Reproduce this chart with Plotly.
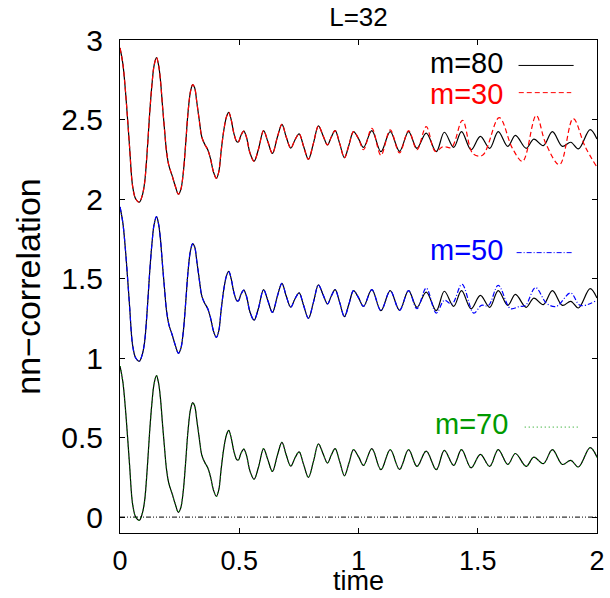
import plotly.graph_objects as go

# ---- data (m=80 base curve, no offset) ----
m80_t = [0.000, 0.012, 0.025, 0.040, 0.053, 0.066, 0.081, 0.093, 0.103, 0.114,
         0.124, 0.134, 0.143, 0.153, 0.162, 0.170, 0.178, 0.187, 0.195, 0.205,
         0.218, 0.232, 0.245, 0.255, 0.265, 0.275, 0.285, 0.296, 0.305, 0.313,
         0.322, 0.332, 0.343, 0.355, 0.368, 0.380, 0.392, 0.404, 0.414, 0.424,
         0.436, 0.447, 0.456, 0.466, 0.478, 0.490, 0.497, 0.507, 0.519, 0.530,
         0.545, 0.562, 0.580, 0.602, 0.620, 0.639, 0.660, 0.679, 0.697, 0.716,
         0.733, 0.751, 0.770, 0.790, 0.811, 0.832, 0.851, 0.870, 0.886, 0.902,
         0.921, 0.941, 0.960, 0.979, 1.000, 1.021, 1.056, 1.094, 1.133, 1.172,
         1.210, 1.245, 1.284, 1.326, 1.360, 1.399, 1.432, 1.472, 1.511, 1.550,
         1.586, 1.626, 1.658, 1.703, 1.735, 1.775, 1.813, 1.855, 1.890, 1.922,
         1.971, 2.000]
m80_v = [0.95, 0.85, 0.64, 0.33, 0.08, 0.00, -0.02, 0.02, 0.10, 0.30,
         0.53, 0.72, 0.84, 0.89, 0.84, 0.74, 0.59, 0.43, 0.30, 0.21,
         0.15, 0.08, 0.03, 0.06, 0.16, 0.34, 0.54, 0.68, 0.72, 0.70,
         0.61, 0.50, 0.39, 0.345, 0.31, 0.25, 0.17, 0.13, 0.17, 0.30,
         0.44, 0.52, 0.545, 0.50, 0.41, 0.36, 0.36, 0.40, 0.427, 0.39,
         0.29, 0.238, 0.31, 0.43, 0.36, 0.287, 0.39, 0.47, 0.39, 0.32,
         0.37, 0.41, 0.33, 0.25, 0.35, 0.46, 0.40, 0.34, 0.39, 0.43,
         0.35, 0.26, 0.34, 0.424, 0.38, 0.325, 0.43, 0.298, 0.424, 0.30,
         0.424, 0.319, 0.415, 0.298, 0.42, 0.325, 0.424, 0.31, 0.394, 0.319,
         0.424, 0.331, 0.40, 0.319, 0.377, 0.336, 0.424, 0.331, 0.357, 0.315,
         0.437, 0.377]

# m=30 follows m=80 up to t~0.98, then departs
m30_tail_t = [1.000, 1.021, 1.056, 1.094, 1.133, 1.172, 1.210, 1.245, 1.284, 1.322,
              1.355, 1.390, 1.436, 1.480, 1.520, 1.590, 1.645, 1.688, 1.745, 1.785,
              1.843, 1.900, 1.950, 2.000]
m30_tail_v = [0.38, 0.31, 0.445, 0.275, 0.435, 0.29, 0.43, 0.31, 0.455, 0.30,
              0.33, 0.325, 0.495, 0.285, 0.275, 0.512, 0.32, 0.237, 0.526, 0.35,
              0.216, 0.506, 0.33, 0.20]

# m=50 follows m=80 up to t~1.17, then departs
m50_tail_t = [1.210, 1.245, 1.284, 1.326, 1.360, 1.392, 1.434, 1.483, 1.515, 1.545,
              1.586, 1.637, 1.675, 1.700, 1.742, 1.790, 1.830, 1.889, 1.930, 2.000]
m50_tail_v = [0.424, 0.31, 0.44, 0.283, 0.363, 0.34, 0.464, 0.283, 0.331, 0.33,
              0.457, 0.311, 0.325, 0.33, 0.443, 0.342, 0.325, 0.409, 0.331, 0.363]

n30 = sum(1 for t in m80_t if t < 1.0)
m30_t = m80_t[:n30] + m30_tail_t
m30_v = m80_v[:n30] + m30_tail_v
n50 = sum(1 for t in m80_t if t < 1.2)
m50_t = m80_t[:n50] + m50_tail_t
m50_v = m80_v[:n50] + m50_tail_v
m70_t = list(m80_t)
m70_v = list(m80_v)

x_ticks = [0, 0.5, 1, 1.5, 2]
x_labels = ["0", "0.5", "1", "1.5", "2"]
y_ticks = [0, 0.5, 1, 1.5, 2, 2.5, 3]
y_labels = ["0", "0.5", "1", "1.5", "2", "2.5", "3"]

offsets = {"m=30": 2.0, "m=50": 1.0, "m=70": 0.0}
colors = {"m=80": "#000000", "m=30": "#ff0000", "m=50": "#0000ff", "m=70": "#009a00"}
dashes = {"m=80": "solid", "m=30": "5px,3px", "m=50": "5px,2px,1px,2px", "m=70": "1px,3px"}
series = {"m=30": (m30_t, m30_v), "m=50": (m50_t, m50_v), "m=70": (m70_t, m70_v)}

FONT = "Liberation Sans, Arial, Helvetica, sans-serif"

fig = go.Figure()

# zero reference line
fig.add_trace(go.Scatter(x=[0, 2], y=[0, 0], mode="lines",
                         line=dict(color="black", width=1, dash="5px,2px,1px,2px,1px,2px"),
                         showlegend=False, hoverinfo="skip"))

for name in ["m=30", "m=50", "m=70"]:
    off = offsets[name]
    fig.add_trace(go.Scatter(x=m80_t, y=[v + off for v in m80_v], mode="lines",
                             line=dict(color=colors["m=80"], width=1.2, shape="spline", smoothing=1.0),
                             name="m=80", showlegend=False))
    t, v = series[name]
    fig.add_trace(go.Scatter(x=t, y=[y + off for y in v], mode="lines",
                             line=dict(color=colors[name], width=1.2, dash=dashes[name],
                                       shape="spline", smoothing=1.0),
                             name=name, showlegend=False))

# gnuplot-style key entries (text then line sample)
legend_items = [("m=80", 2.855, 1.613, 1.671, 1.902, 2.840),
                ("m=30", 2.663, 1.613, 1.672, 1.892, 2.669),
                ("m=50", 1.682, 1.613, 1.663, 1.894, 1.663),
                ("m=70", 0.587, 1.634, 1.697, 1.919, 0.566)]
for name, ty, tx, x0, x1, ly in legend_items:
    fig.add_annotation(x=tx, y=ty, xref="x", yref="y", text=name, showarrow=False,
                       xanchor="right", yanchor="middle",
                       font=dict(family=FONT, size=29, color=colors[name]))
    fig.add_shape(type="line", xref="x", yref="y", x0=x0, x1=x1, y0=ly, y1=ly,
                  line=dict(color=colors[name], width=1, dash=dashes[name]))

# x-axis title placed below the tick labels
fig.add_annotation(x=0.5, y=-0.1314, xref="paper", yref="paper", text="time",
                   showarrow=False, xanchor="center", yanchor="bottom",
                   font=dict(family=FONT, size=27, color="black"))

fig.update_layout(
    width=610, height=598,
    margin=dict(l=120, r=13, t=40, b=65),
    paper_bgcolor="white", plot_bgcolor="white",
    font=dict(family=FONT, size=28, color="black"),
    title=dict(text="L=32", x=0.5877, xanchor="center", y=0.972, yanchor="middle",
               yref="container", font=dict(family=FONT, size=26, color="black")),
    showlegend=False,
)
fig.update_xaxes(range=[0, 2], tickvals=x_ticks, ticktext=x_labels, automargin=False,
                 ticks="inside", ticklen=5, tickcolor="black", mirror="allticks",
                 showline=True, linecolor="black", linewidth=1, showgrid=False, zeroline=False,
                 ticklabelstandoff=4,
                 tickfont=dict(size=27))
fig.update_yaxes(range=[-0.1, 3], tickvals=y_ticks, ticktext=y_labels, automargin=False,
                 ticks="inside", ticklen=5, tickcolor="black", mirror="allticks",
                 showline=True, linecolor="black", linewidth=1, showgrid=False, zeroline=False,
                 ticklabelstandoff=10,
                 title=dict(text="nn−correlation", standoff=10, font=dict(size=34)),
                 tickfont=dict(size=30))

fig.write_html("out.html")
